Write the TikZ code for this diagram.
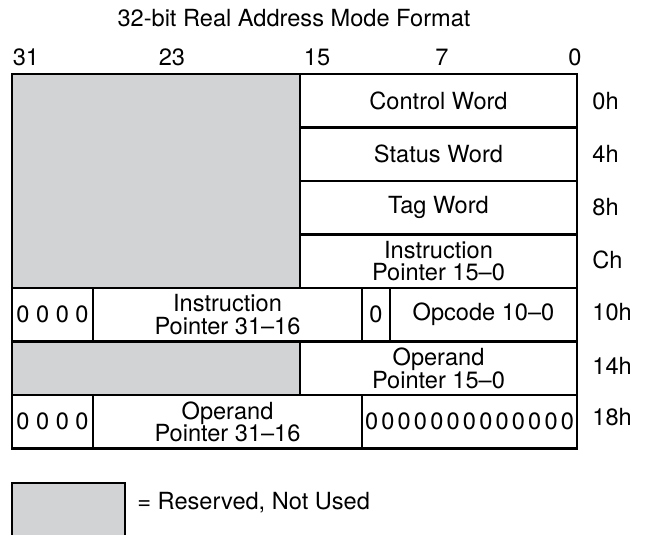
\documentclass[tikz,border=0pt]{standalone}
\usepackage{fontspec}
\setmainfont{TeX Gyre Heros}
\definecolor{resv}{RGB}{209,211,212}
\tikzset{
  txt/.style={font=\fontsize{11.8}{11.2}\selectfont},
  fld/.style={txt, draw, line width=1.3pt, inner sep=0pt, align=center}
}
% name, x1, x2, first row, rows, fill, text
\newcommand{\fld}[7]{\node[fld, fill=#6, minimum width={(#3-#2)*0.5pt}, minimum height={#5*26.75pt}]
  (#1) at ({(#2+#3)/2},{74+53.5*#4+26.75*#5}) {#7};}
\newcommand{\zrow}{0\hspace{1.6pt}0\hspace{1.6pt}0\hspace{1.6pt}0\hspace{1.6pt}0\hspace{1.6pt}0\hspace{1.6pt}0\hspace{1.6pt}0\hspace{1.6pt}0\hspace{1.6pt}0\hspace{1.6pt}0\hspace{1.6pt}0\hspace{1.6pt}0}

\begin{document}
\begin{tikzpicture}[x=0.5pt,y=-0.5pt]
\useasboundingbox (0,0) rectangle (645,535);

\node[txt] (title) at (294,18) {32-bit Real Address Mode Format};
\foreach \b/\x in {31/26,23/172,15/317,7/442,0/575}
  \node[txt] (bit\b) at (\x,57) {\b};

% reserved areas
\fld{resA}{12}{300}{0}{4}{resv}{}
\fld{resB}{12}{300}{5}{1}{resv}{}

\fld{ctrl}{300}{577}{0}{1}{white}{Control Word}
\fld{stat}{300}{577}{1}{1}{white}{Status Word}
\fld{tag}{300}{577}{2}{1}{white}{Tag Word}
\fld{iplo}{300}{577}{3}{1}{white}{Instruction\\Pointer 15--0}

\fld{zipA}{12}{93}{4}{1}{white}{0 0 0 0}
\fld{iphi}{93}{362}{4}{1}{white}{Instruction\\Pointer 31--16}
\fld{zop}{362}{390}{4}{1}{white}{0}
\fld{opc}{390}{577}{4}{1}{white}{Opcode 10--0}

\fld{oplo}{300}{577}{5}{1}{white}{Operand\\Pointer 15--0}

\fld{zopA}{12}{93}{6}{1}{white}{0 0 0 0}
\fld{ophi}{93}{362}{6}{1}{white}{Operand\\Pointer 31--16}
\fld{zlow}{362}{577}{6}{1}{white}{\zrow}

\foreach \o/\y in {0h/101,4h/154,8h/207,Ch/260,10h/312,14h/366,18h/417}
  \node[txt, anchor=west, inner sep=0pt] (off\o) at (592,\y) {\o};

% legend
\node[fld, fill=resv, minimum width=56.5pt, minimum height=27pt] (key) at (68.5,510) {};
\node[txt, anchor=west, inner sep=0pt] (keytxt) at (137,503) {= Reserved, Not Used};

\end{tikzpicture}
\end{document}
